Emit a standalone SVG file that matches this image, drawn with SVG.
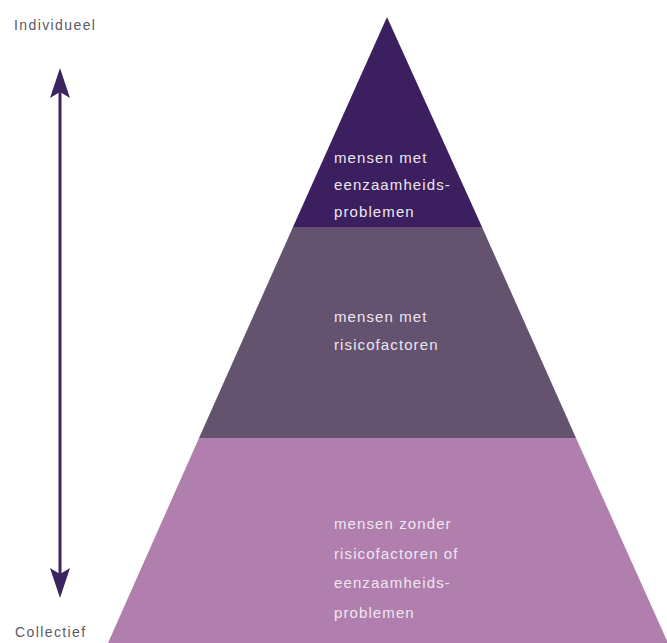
<svg xmlns="http://www.w3.org/2000/svg" width="667" height="643" viewBox="0 0 667 643">
<style>
.lbl{font-family:"Liberation Sans",Arial,sans-serif;font-size:14px;fill:#5a5a66;letter-spacing:1.4px}
.t{font-family:"Liberation Sans",Arial,sans-serif;font-size:15px;fill:#efe6f2;letter-spacing:1.1px}
</style>
<rect width="667" height="643" fill="#ffffff"/>
<g id="top-tier">
<polygon points="387,17 482,227 293,227" fill="#3b1f5e"/>
<text class="t" x="334" y="163">mensen met</text>
<text class="t" x="334" y="190">eenzaamheids-</text>
<text class="t" x="334" y="217">problemen</text>
</g>
<g id="middle-tier">
<polygon points="293,227 482,227 576,438 199,438" fill="#63536f"/>
<text class="t" x="334" y="322">mensen met</text>
<text class="t" x="334" y="350">risicofactoren</text>
</g>
<g id="bottom-tier">
<polygon points="199,438 576,438 668,643 108,643" fill="#b07fae"/>
<text class="t" x="334" y="529">mensen zonder</text>
<text class="t" x="334" y="559">risicofactoren of</text>
<text class="t" x="334" y="588">eenzaamheids-</text>
<text class="t" x="334" y="618">problemen</text>
</g>
<g id="label-individueel">
<text class="lbl" x="14" y="30">Individueel</text>
</g>
<g id="label-collectief">
<text class="lbl" x="15" y="637">Collectief</text>
</g>
<g id="connectors">
<line x1="60" y1="85" x2="60" y2="582" stroke="#3b2460" stroke-width="3"/>
<polygon points="60,68 70,98 60,92 50,98" fill="#3b2460"/>
<polygon points="60,598 70,568 60,574 50,568" fill="#3b2460"/>
</g>
</svg>
